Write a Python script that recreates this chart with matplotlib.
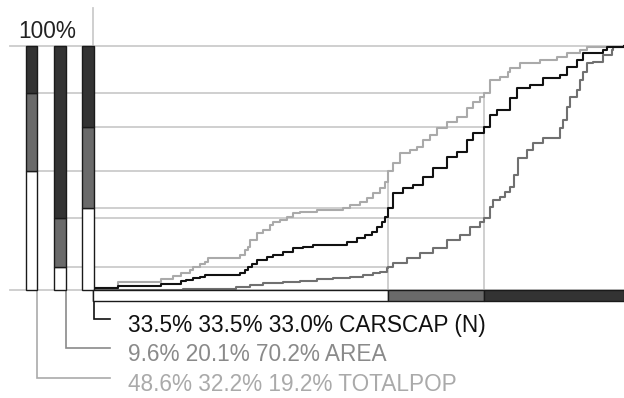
import numpy as np
import matplotlib.pyplot as plt

# series, in the order the left bars are drawn
names = ['TOTALPOP', 'AREA', 'CARSCAP (N)']
# share of each series in the three CARSCAP tertiles (low, mid, high), in %
shares = [[48.6, 32.2, 19.2],
          [9.6, 20.1, 70.2],
          [33.5, 33.5, 33.0]]
# tertile boundaries on the rank axis (% of items)
tertile_cuts = [55.6, 73.6]

# cumulative curves: rank (% of items) -> cumulative share (%)
pop_x = [0.0, 4.7, 12.8, 15.1, 16.6, 18.3, 18.8, 20.1, 21.1, 21.7, 27.7, 28.6, 29.2, 29.6,
         30.9, 32.0, 33.3, 33.9, 35.2, 36.5, 37.7, 39.0, 42.2, 47.1, 48.4, 50.3, 51.6, 52.7,
         54.0, 55.0, 55.6, 56.5, 57.8, 59.7, 61.0, 62.1, 63.5, 64.8, 66.7, 68.5, 70.4, 71.6,
         72.9, 73.6, 74.8, 76.6, 78.2, 78.5, 80.4, 84.2, 87.4, 89.3, 91.7, 93.0, 100.0]
pop_y = [0.8, 3.3, 4.5, 5.7, 7.0, 8.2, 9.4, 10.7, 11.5, 13.1, 14.3, 16.4, 17.6, 20.5,
         23.4, 24.6, 26.6, 27.9, 28.7, 29.9, 31.6, 32.0, 32.8, 33.6, 34.8, 36.1, 37.7, 39.8,
         41.8, 44.3, 48.6, 52.0, 56.1, 57.4, 58.6, 61.5, 63.5, 66.4, 68.9, 70.9, 74.6, 77.0,
         79.1, 80.8, 86.1, 87.3, 89.3, 91.0, 93.0, 94.3, 95.5, 97.1, 98.4, 99.6, 100.0]

area_x = [0.0, 16.9, 26.9, 29.6, 32.0, 35.8, 39.0, 42.2, 45.2, 48.4, 50.8, 52.7, 54.0, 55.4,
          55.6, 56.5, 59.1, 61.6, 64.0, 66.7, 69.1, 71.0, 72.9, 73.6, 74.8, 75.3, 76.6, 77.6,
          78.5, 79.3, 80.0, 81.7, 82.9, 84.7, 87.9, 88.5, 89.3, 89.8, 91.1, 91.7, 92.3, 93.0,
          94.2, 96.0, 97.7, 97.9, 100.0]
area_y = [0.0, 0.4, 1.2, 2.0, 2.9, 3.3, 3.7, 4.5, 4.9, 5.3, 6.1, 7.0, 7.4, 9.0,
          9.6, 11.1, 13.1, 15.2, 17.2, 20.5, 22.5, 25.8, 27.9, 29.7, 34.0, 36.9, 38.1, 40.2,
          42.2, 47.1, 54.1, 57.4, 60.2, 62.3, 66.4, 69.7, 75.0, 79.1, 82.0, 86.1, 89.3, 93.0,
          93.4, 96.3, 98.4, 99.6, 100.0]

cars_x = [0.0, 4.7, 12.8, 16.6, 17.5, 18.8, 20.1, 21.1, 27.7, 28.6, 29.2, 29.9, 30.9, 32.8,
          33.9, 35.8, 37.7, 39.5, 41.4, 47.8, 49.7, 51.2, 52.5, 53.5, 54.4, 55.0, 55.6, 56.5,
          58.4, 60.3, 62.1, 64.0, 66.7, 68.5, 70.4, 71.6, 73.6, 74.8, 76.1, 78.5, 79.8, 82.3,
          84.7, 87.9, 89.3, 91.1, 92.3, 96.0, 96.8, 100.0]
cars_y = [0.8, 1.6, 2.5, 3.7, 4.1, 4.9, 5.3, 6.1, 7.0, 8.2, 9.4, 10.7, 12.3, 13.5,
          14.3, 15.6, 17.2, 17.6, 18.4, 19.7, 21.3, 22.5, 23.8, 25.8, 27.9, 29.9, 33.5, 39.8,
          41.8, 43.0, 46.3, 50.0, 54.5, 56.6, 61.5, 64.3, 67.0, 71.7, 73.8, 78.7, 82.8, 84.0,
          86.9, 88.1, 91.4, 94.3, 97.1, 98.4, 99.6, 100.0]

curves = [(pop_x, pop_y), (area_x, area_y), (cars_x, cars_y)]
line_colors = ['#aaaaaa', '#707070', '#111111']
text_colors = ['#aaaaaa', '#8a8a8a', '#111111']
seg_colors = ['white', '#6a6a6a', '#333333']

# figure scale: pixels per data unit
W, H = 624, 398
x0, y0 = 93, 290
sx, sy = 5.31, 2.44

def px(p):
    return (p - x0) / sx

def py(p):
    return (y0 - p) / sy

plt.rcParams['font.family'] = ['Liberation Sans', 'DejaVu Sans']
fig = plt.figure(figsize=(W / 100, H / 100), dpi=100)
ax = fig.add_axes([0, 0, 1, 1])
ax.set_xlim(px(0), px(W))
ax.set_ylim(py(H), py(0))
ax.axis('off')

grid_c = '#cccccc'
grid_lw = 1.3
bar_x = [px(31.5), px(60), px(88.2)]
bar_w = 11.5 / sx

# frame lines: top, baseline, left axis
ax.plot([px(10), 100], [100, 100], color=grid_c, lw=grid_lw, zorder=1)
ax.plot([px(10), 100], [0, 0], color=grid_c, lw=grid_lw, zorder=1)
ax.plot([0, 0], [py(301), py(8)], color=grid_c, lw=grid_lw, zorder=1)

# guide lines at the tertile levels of each series
for i, sh in enumerate(shares):
    levels = np.cumsum(sh)[:2]
    for lev, cut in zip(levels, tertile_cuts):
        ax.plot([bar_x[i], cut], [lev, lev], color=grid_c, lw=grid_lw, zorder=1)
for k, cut in enumerate(tertile_cuts):
    top = max(np.cumsum(sh)[k] for sh in shares)
    ax.plot([cut, cut], [0, top], color=grid_c, lw=grid_lw, zorder=1)

# stacked bars on the left
for i, sh in enumerate(shares):
    bottom = 0
    for v, c in zip(sh, seg_colors):
        ax.bar(bar_x[i], v, bottom=bottom, width=bar_w, color=c,
               edgecolor='#1a1a1a', lw=1, zorder=3)
        bottom += v

# cumulative curves
for (cx, cy), c in zip(curves, line_colors):
    ax.plot(cx, cy, drawstyle='steps-post', color=c, lw=1.5, zorder=2)

# tertile strip under the rank axis
edges = [0] + tertile_cuts + [100]
for k in range(3):
    ax.barh(py(295.5), edges[k + 1] - edges[k], left=edges[k], height=11 / sy,
            color=seg_colors[k], edgecolor='#1a1a1a', lw=1, zorder=3)

ax.text(px(47), py(32), '100%', ha='center', va='center', fontsize=16.3, color='#222222')

# legend rows with connectors back to the bars
conn_x = [px(37), px(65.7), px(94)]
conn_top = [0, 0, py(301)]
row_y = [py(378), py(348), py(319)]
for i in range(3):
    ax.plot([conn_x[i], conn_x[i], px(110)], [conn_top[i], row_y[i], row_y[i]],
            color=text_colors[i], lw=1.2, zorder=2, solid_joinstyle='miter')
    label = ' '.join(f'{v:.1f}%' for v in shares[i]) + ' ' + names[i]
    ax.text(px(128), row_y[i] - 2.8, label, ha='left', va='center',
            fontsize=16.3, color=text_colors[i])

fig.savefig('out.png', dpi=100)
